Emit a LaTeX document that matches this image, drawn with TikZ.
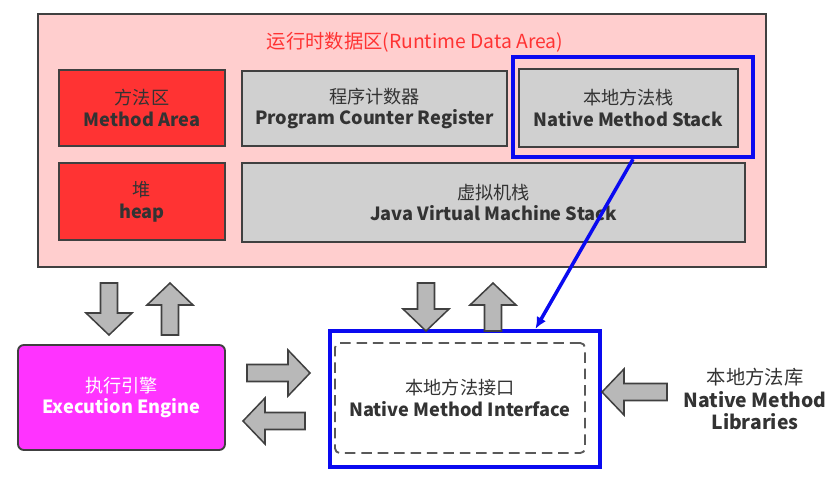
\documentclass[tikz,border=0pt]{standalone}
\usepackage{fontspec}
\setmainfont{Noto Sans CJK SC}
\usepackage{tikz}
\usetikzlibrary{calc}
\usetikzlibrary{arrows.meta}

\definecolor{rdapink}{RGB}{255,206,206}
\definecolor{areared}{RGB}{255,51,51}
\definecolor{stackgray}{RGB}{208,208,208}
\definecolor{enginemag}{RGB}{255,51,255}
\definecolor{nativeblue}{RGB}{10,10,240}
\definecolor{framegray}{RGB}{64,64,64}

\tikzset{
  span/.style 2 args={minimum width=#1*0.03cm, minimum height=#2*0.03cm},
  box/.style={draw=framegray, line width=1.6pt, inner sep=0pt, align=center, text=black!80},
  redbox/.style={box, fill=areared},
  graybox/.style={box, fill=stackgray},
  blueframe/.style={draw=nativeblue, line width=3.6pt, inner sep=0pt},
  nativelink/.style={draw=nativeblue, line width=3pt, -{Latex[length=10pt,width=9pt]}},
  fatarrow/.style={draw=framegray, line width=1.3pt, fill=black!28, line join=miter},
  pics/blockarrow/.style={code={
    \draw[fatarrow] (0,-8.5) -- (#1-22,-8.5) -- (#1-22,-23) -- (#1,0) -- (#1-22,23) -- (#1-22,8.5) -- (0,8.5) -- cycle;
  }},
}

\begin{document}
\begin{tikzpicture}[x=0.03cm, y=-0.03cm, font=\fontsize{15.5}{18.5}\selectfont]
    \useasboundingbox (0,0) rectangle (836,492);
    % runtime data area
    \node[box, fill=rdapink, span={728}{253}] (rda) at (402,140.5) {};
    \node[text=areared, font=\fontsize{16.5}{20}\selectfont] (rdatitle) at (415,42) {运行时数据区(Runtime Data Area)};
    \node[redbox, span={166}{76}] (methodarea) at (142,108) {方法区\\\textbf{Method Area}};
    \node[graybox, span={265}{75}] (pcreg) at (374.5,108.5) {程序计数器\\\textbf{Program Counter Register}};
    \node[graybox, span={219}{78}] (nmstack) at (628.5,108) {本地方法栈\\\textbf{Native Method Stack}};
    \node[blueframe, span={240}{100}] (nmsframe) at (633,107) {};
    \node[redbox, span={166}{77}] (heap) at (142,201.5) {堆\\\textbf{heap}};
    \node[graybox, span={503}{79}] (jvmstack) at (493.5,202.5) {虚拟机栈\\\textbf{Java Virtual Machine Stack}};
    % engine and native interface
    \node[box, fill=enginemag, text=white, rounded corners=5pt, span={207}{105}] (engine) at (121.5,397.5) {执行引擎\\\textbf{Execution Engine}};
    \node[blueframe, span={270}{136}] (nmi) at (465,399) {};
    \node[box, draw=black!65, dash pattern=on 9pt off 5pt, rounded corners=4pt, span={250}{110}] (nmiinner) at (460,398) {本地方法接口\\\textbf{Native Method Interface}};
    \node[align=center, text=black!80, font=\fontsize{16.5}{19}\selectfont] (nmlib) at (755,399) {本地方法库\\\textbf{Native Method}\\\textbf{Libraries}};
    % block arrows
    \pic[rotate=-90] at (109,283) {blockarrow=52};
    \pic[rotate=90] at (170,335) {blockarrow=52};
    \pic[rotate=-90] at (426,283) {blockarrow=48};
    \pic[rotate=90] at (493,331) {blockarrow=48};
    \pic at (247,373) {blockarrow=63};
    \pic[rotate=180] at (305,421) {blockarrow=62};
    \pic[rotate=180] at (667,392) {blockarrow=65};
    % stack -> interface
    \draw[nativelink] (nmsframe.south) -- ($(nmi.north west)!0.757!(nmi.north east)$);
\end{tikzpicture}
\end{document}
